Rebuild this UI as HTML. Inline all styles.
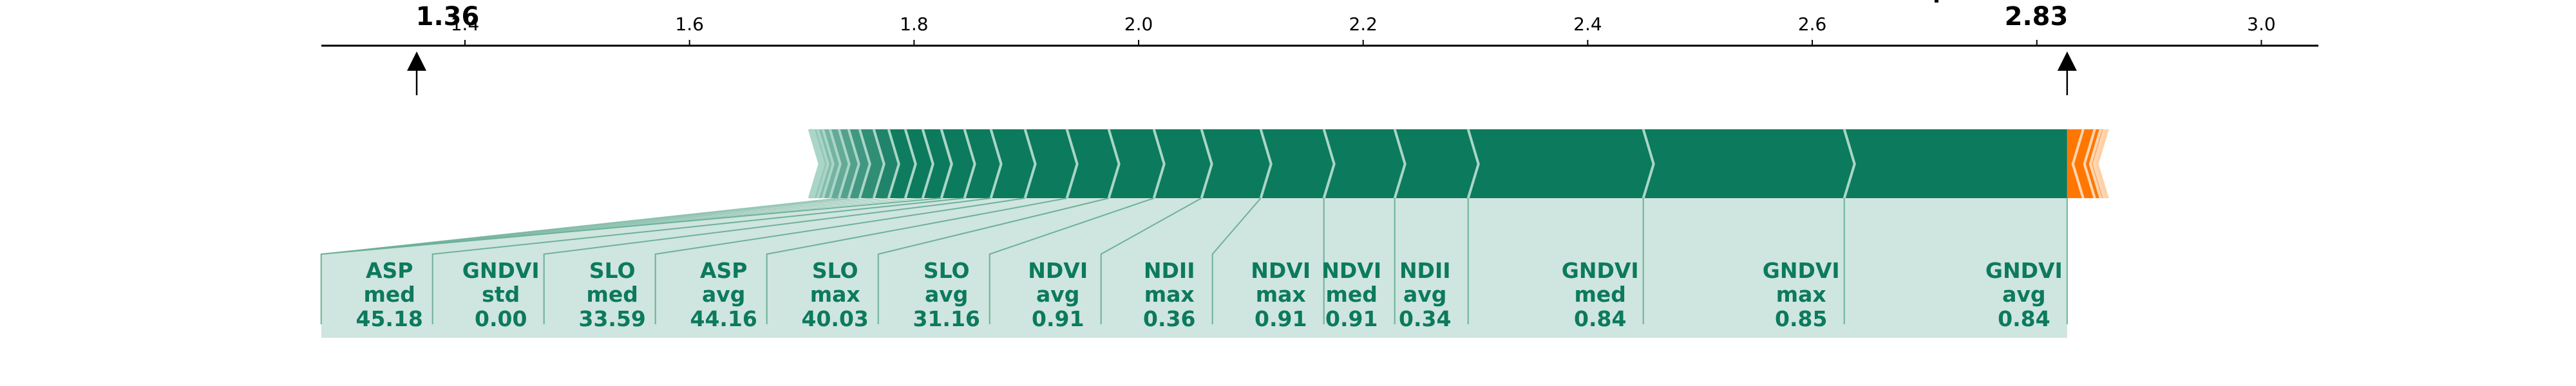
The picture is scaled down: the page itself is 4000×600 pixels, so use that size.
<!DOCTYPE html>
<html><head><meta charset="utf-8"><title>Force plot</title>
<style>
html,body{margin:0;padding:0;background:#fff;}
svg{display:block;}
text{font-family:"DejaVu Sans","Liberation Sans",sans-serif;}
</style></head>
<body>
<svg id="chart" width="4000" height="600" viewBox="0 0 4000 600" xmlns="http://www.w3.org/2000/svg">
<g id="axis"></g>
<g id="bars"></g>
<g id="labels"></g>
<g id="markers"></g>
</svg>
<script>
// ---- data ----
const baseValue = 1.357;
const outputValue = 2.827;
const tickValues = [1.4, 1.6, 1.8, 2.0, 2.2, 2.4, 2.6, 2.8, 3.0];
const tickLabels = ["1.4", "1.6", "1.8", "2.0", "2.2", "2.4", "2.6", "", "3.0"];
// positive features, left to right (the last one ends at the output value)
const posNames = ["", "", "", "", "", "", "", "", "", "", "", "", "", "", "", "",
  "ASP|med", "GNDVI|std", "SLO|med", "ASP|avg", "SLO|max", "SLO|avg", "NDVI|avg", "NDII|max",
  "NDVI|max", "NDVI|med", "NDII|avg", "GNDVI|med", "GNDVI|max", "GNDVI|avg"];
const posFeatureValues = ["", "", "", "", "", "", "", "", "", "", "", "", "", "", "", "",
  "45.18", "0.00", "33.59", "44.16", "40.03", "31.16", "0.91", "0.36",
  "0.91", "0.91", "0.34", "0.84", "0.85", "0.84"];
const posEffects = [0.0004, 0.0005, 0.0006, 0.002, 0.004, 0.0046, 0.0063, 0.008, 0.0086, 0.0098, 0.0126, 0.0132, 0.0149, 0.0155, 0.0166, 0.0,
  0.0206, 0.0235, 0.0304, 0.0373, 0.0373, 0.0402, 0.0424, 0.0528,
  0.0562, 0.0631, 0.0654, 0.156, 0.179, 0.1985];
// negative features, left to right starting at the output value
const negEffects = [0.0143, 0.0103, 0.0052, 0.0034, 0.004];

// ---- scales / layout ----
const X0 = 722, V0 = 1.4, K = 1743.4;
function x(v){ return X0 + (v - V0) * K; }
const barTop = 201, barBot = 308, barMid = 255, notch = 16;
const boxTop = 395, lineBot = 504, fillBot = 525;
const SVGNS = "http://www.w3.org/2000/svg";
function el(tag, attrs, parent){
  const e = document.createElementNS(SVGNS, tag);
  for (const k in attrs) e.setAttribute(k, attrs[k]);
  parent.appendChild(e); return e;
}
const axisG = document.getElementById('axis');
const barsG = document.getElementById('bars');
const labG = document.getElementById('labels');
const mkG = document.getElementById('markers');

// axis
let ax = el('line', {x1:499, x2:3600, y1:71, y2:71, stroke:'#000', 'stroke-width':3}, axisG);


tickValues.forEach((t, i) => {
  const tx = x(t);
  let tk = el('line', {x1:tx, x2:tx, y1:62, y2:71, stroke:'#000', 'stroke-width':2}, axisG);
  
  
  if (tickLabels[i]) {
    let tl = el('text', {x:tx, y:47, 'font-size':28, 'text-anchor':'middle', fill:'#000'}, axisG);
    tl.textContent = tickLabels[i];
    
    
  }
});
let cut = el('rect', {x:3004, y:0, width:6, height:4, fill:'#000'}, axisG);



// positive cumulative boundaries
const total = posEffects.reduce((a,b)=>a+b, 0);
const posB = [outputValue - total];
posEffects.forEach(e => posB.push(posB[posB.length-1] + e));
const posX = posB.map(x);
const nPos = posEffects.length;

// light fill under labels
const labeled = [];
for (let i = 0; i < nPos; i++) if (posNames[i]) labeled.push(i);
const firstLab = labeled[0];
let fill = el('polygon', {points:
  `499,${fillBot} 499,${boxTop} ${posX[firstLab]},${barBot} ${posX[nPos]},${barBot} ${posX[nPos]},${fillBot}`,
  fill:'#cfe5df'}, labG);



// positive segments
for (let i = 0; i < nPos; i++) {
  const a = posX[i], b = posX[i+1];
  if (b - a < 0.5) continue;
  const rightEdge = (i === nPos-1) ? `${b},${barBot} ${b},${barTop}` : `${b},${barBot} ${b+notch},${barMid} ${b},${barTop}`;
  const pts = `${a},${barTop} ${a+notch},${barMid} ${a},${barBot} ${rightEdge}`;
  const op = i < 16 ? Math.min(1, 0.15 + i*0.07) : 1;
  let p = el('polygon', {points:pts, fill:'#0c7a5d', 'fill-opacity':op}, barsG);
  
  
}
for (let i = 0; i < nPos; i++) {
  const a = posX[i];
  let s = el('polyline', {points:`${a},${barTop} ${a+notch},${barMid} ${a},${barBot}`, fill:'none', stroke:'#a9d6c6', 'stroke-width':4}, barsG);
  
  
}

// negative segments
const negB = [outputValue];
negEffects.forEach(e => negB.push(negB[negB.length-1] + e));
const negX = negB.map(x);
for (let i = 0; i < negEffects.length; i++) {
  const a = negX[i], b = negX[i+1];
  const leftEdge = i === 0 ? `${a},${barTop} ${a},${barBot}` : `${a},${barTop} ${a-notch},${barMid} ${a},${barBot}`;
  const pts = `${leftEdge} ${b},${barBot} ${b-notch},${barMid} ${b},${barTop}`;
  const op = i < 3 ? 1 : 0.6 - (i-3)*0.25;
  let p = el('polygon', {points:pts, fill:'#ff7700', 'fill-opacity':op}, barsG);
  
  
  if (i > 0) {
    let s = el('polyline', {points:`${a},${barTop} ${a-notch},${barMid} ${a},${barBot}`, fill:'none', stroke:'#ffd6b3', 'stroke-width':4}, barsG);
    
    
  }
}

// label boxes right to left
let right = posX[nPos];
const lineCol = '#6db199';
let rv = el('line', {x1:right, x2:right, y1:barBot, y2:lineBot, stroke:lineCol, 'stroke-width':2}, labG);


for (let k = labeled.length - 1; k >= 0; k--) {
  const i = labeled[k];
  const w = posX[i+1] - posX[i];
  const bw = w >= 105 ? w : 173;
  const left = right - bw;
  let c = el('polyline', {points:`${posX[i]},${barBot} ${left},${boxTop} ${left},${lineBot}`, fill:'none', stroke:lineCol, 'stroke-width':2}, labG);
  
  
  const parts = posNames[i].split('|');
  const lines = [parts[0], parts[1], posFeatureValues[i]];
  const cx = right - 67;
  let t = el('text', {x:cx, y:0, 'font-size':33, 'font-weight':'bold', fill:'#0c7a5d', 'text-anchor':'middle'}, labG);
  
  
  [432, 469, 507].forEach((yy, j) => {
    const ts = el('tspan', {x:cx, y:yy}, t);
    ts.textContent = lines[j];
  });
  right = left;
}
// unlabeled small features converge to left box corner
for (let i = 8; i < firstLab; i++) {
  let c = el('line', {x1:posX[i], y1:barBot, x2:499, y2:boxTop, stroke:lineCol, 'stroke-width':1.5, 'stroke-opacity':0.7}, labG);
  
  
}

// markers
function marker(v, label, lx, name){
  const mx = x(v);
  const g = el('g', {}, mkG);
  
  
  el('line', {x1:mx, x2:mx, y1:100, y2:148, stroke:'#000', 'stroke-width':2.5}, g);
  el('polygon', {points:`${mx},80 ${mx-15},110 ${mx+15},110`, fill:'#000'}, g);
  const t = el('text', {x:lx, y:39, 'font-size':40, 'font-weight':'bold', 'text-anchor':'middle', fill:'#000'}, g);
  t.textContent = label;
}
marker(baseValue, baseValue.toFixed(2), 695, 'base-value-marker');
marker(outputValue, outputValue.toFixed(2), 3162, 'output-value-marker');
</script>
</body></html>
